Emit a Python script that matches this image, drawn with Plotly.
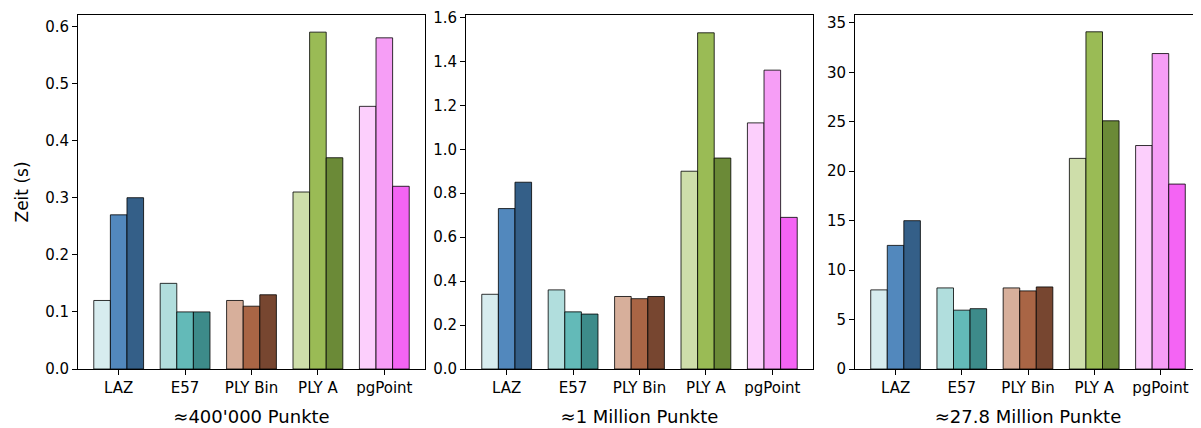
import plotly.graph_objects as go

categories = ["LAZ", "E57", "PLY Bin", "PLY A", "pgPoint"]
panel_titles = ["≈400'000 Punkte", "≈1 Million Punkte", "≈27.8 Million Punkte"]

# values per panel: [series0, series1, series2], each over categories
p1_s0 = [0.12, 0.15, 0.12, 0.31, 0.46]
p1_s1 = [0.27, 0.10, 0.11, 0.59, 0.58]
p1_s2 = [0.30, 0.10, 0.13, 0.37, 0.32]

p2_s0 = [0.34, 0.36, 0.33, 0.90, 1.12]
p2_s1 = [0.73, 0.26, 0.32, 1.53, 1.36]
p2_s2 = [0.85, 0.25, 0.33, 0.96, 0.69]

p3_s0 = [8.0, 8.2, 8.2, 21.3, 22.6]
p3_s1 = [12.5, 5.95, 7.9, 34.1, 31.9]
p3_s2 = [15.0, 6.1, 8.3, 25.1, 18.7]

y_max = [0.62, 1.611, 35.8]
y_ticks = [
    [0.0, 0.1, 0.2, 0.3, 0.4, 0.5, 0.6],
    [0.0, 0.2, 0.4, 0.6, 0.8, 1.0, 1.2, 1.4, 1.6],
    [0, 5, 10, 15, 20, 25, 30, 35],
]
y_fmt = [".1f", ".1f", "d"]

colors_s0 = ["#d7ecef", "#b1dedd", "#d7af9b", "#cedeaa", "#fccffc"]
colors_s1 = ["#5288bd", "#63bab8", "#a96545", "#9abb55", "#f69ef6"]
colors_s2 = ["#345f88", "#3d8b8a", "#774630", "#6b8a37", "#f464f4"]

panels = [[p1_s0, p1_s1, p1_s2], [p2_s0, p2_s1, p2_s2], [p3_s0, p3_s1, p3_s2]]
series_colors = [colors_s0, colors_s1, colors_s2]

# the page body has an 8px margin, so the figure starts at (8, 8)
OFF = 8
W, H = 1201 - OFF, 428 - OFF
px_x = [(78, 425), (466, 813), (855, 1201)]
x_domains = [((a - OFF) / W, min(1.0, (b - OFF) / W)) for a, b in px_x]
y_domain = (1 - (369 - OFF) / H, 1 - (15 - OFF) / H)

fig = go.Figure()
for p, series in enumerate(panels):
    xa = "x" if p == 0 else f"x{p+1}"
    ya = "y" if p == 0 else f"y{p+1}"
    for i, vals in enumerate(series):
        fig.add_trace(go.Bar(
            x=categories, y=vals, xaxis=xa, yaxis=ya,
            marker=dict(color=series_colors[i],
                        line=dict(color="rgba(0,0,0,0.8)", width=1)),
            offsetgroup=str(i), showlegend=False,
        ))

font_family = "DejaVu Sans"
layout = dict(
    width=W, height=H,
    margin=dict(l=0, r=0, t=0, b=0),
    paper_bgcolor="white", plot_bgcolor="white",
    barmode="group", bargap=0.25, bargroupgap=0,
    font=dict(family=font_family, color="#262626", size=15),
)
for p in range(3):
    xk = "xaxis" if p == 0 else f"xaxis{p+1}"
    yk = "yaxis" if p == 0 else f"yaxis{p+1}"
    ya = "y" if p == 0 else f"y{p+1}"
    xa = "x" if p == 0 else f"x{p+1}"
    layout[xk] = dict(
        domain=list(x_domains[p]), anchor=ya, automargin=False,
        range=[-0.6125, 4.6125], type="category",
        showline=True, linecolor="black", linewidth=1, mirror=True,
        ticks="outside", ticklen=5, tickcolor="black",
        showgrid=False, tickfont=dict(size=15, color="black"),
        title=dict(text=panel_titles[p], font=dict(size=18, color="black"), standoff=14),
    )
    layout[yk] = dict(
        domain=list(y_domain), anchor=xa, automargin=False,
        range=[0, y_max[p]], tickmode="array", tickvals=y_ticks[p], tickformat=y_fmt[p],
        showline=True, linecolor="black", linewidth=1, mirror=True,
        ticks="outside", ticklen=5, tickcolor="black",
        showgrid=False, zeroline=False, tickfont=dict(size=15, color="black"),
    )
layout["yaxis"]["title"] = dict(text="Zeit (s)", font=dict(size=17, color="black"), standoff=12)

fig.update_layout(**layout)
fig.write_html("out.html")
